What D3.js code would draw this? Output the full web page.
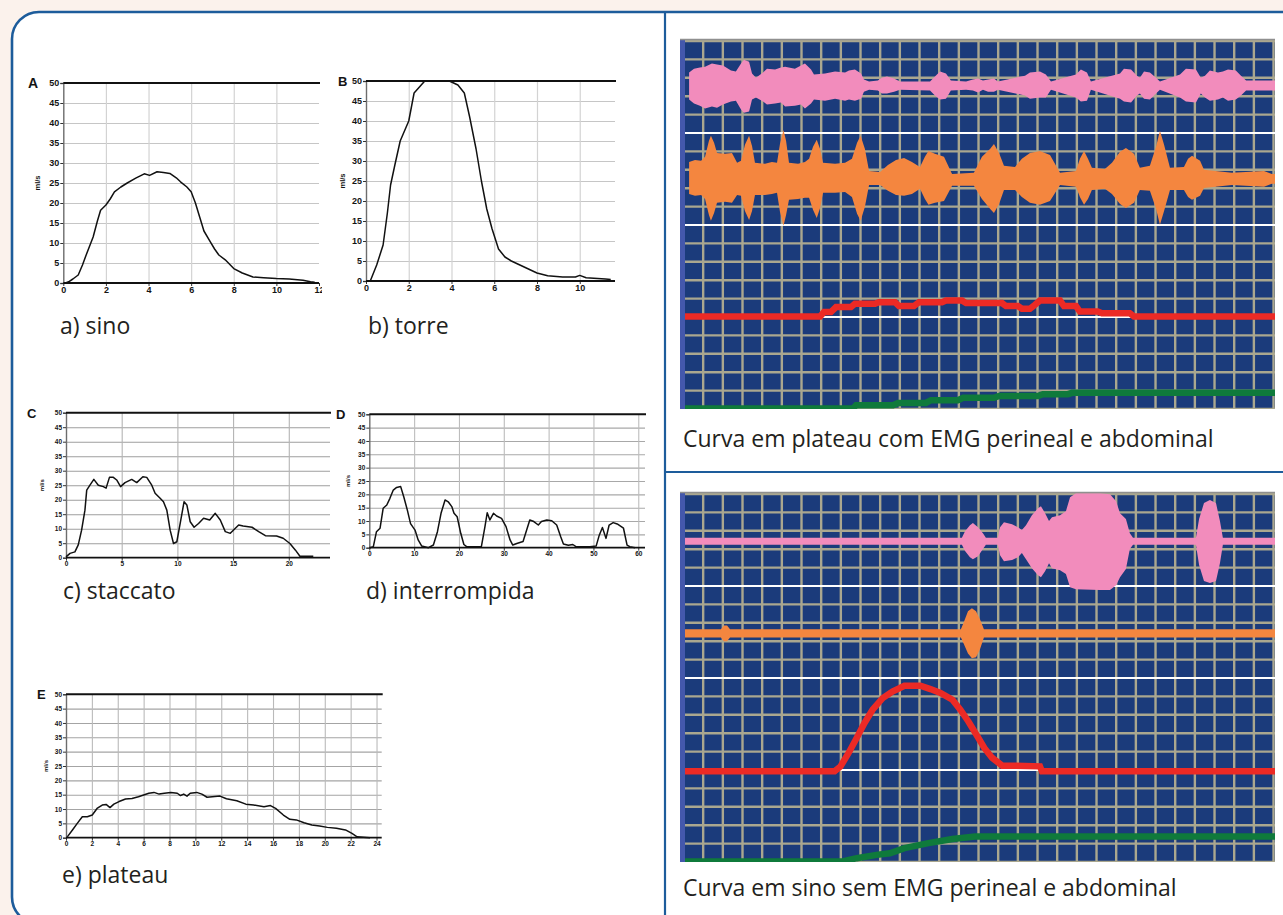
<!DOCTYPE html>
<html>
<head>
<meta charset="utf-8">
<script src="https://cdn.jsdelivr.net/npm/d3@7"></script>
<style>
html, body { margin: 0; padding: 0; background: #fbf2ec; }
svg { display: block; }
.cap { font-family: "Open Sans", "Noto Sans", sans-serif; fill: #231f20; }
.lbl { font-family: "Liberation Sans", Arial, sans-serif; font-weight: bold; fill: #141414; }
</style>
</head>
<body>
<svg id="fig" width="1283" height="915"></svg>
<script>
// ---- flow curves (x: seconds, y: ml/s) ----
const sinoData = [[0.1,0],[0.25,0.3],[0.45,1],[0.7,2],[0.9,4.5],[1.1,7.4],[1.4,11.5],[1.6,15.5],[1.75,18.2],[2.0,19.5],[2.2,21],[2.4,22.8],[2.7,24],[3.0,25],[3.4,26.2],[3.8,27.3],[4.05,26.9],[4.4,27.8],[4.7,27.6],[5.0,27.4],[5.3,26.3],[5.5,25.3],[5.8,24],[6.0,22.8],[6.2,20],[6.4,16.5],[6.6,13],[6.9,10.3],[7.1,8.5],[7.3,7],[7.6,5.8],[8.0,3.6],[8.4,2.5],[8.9,1.5],[9.4,1.3],[10.0,1.1],[10.6,1.0],[11.25,0.7],[11.6,0.3],[11.8,0.2]];
const torreData = [[0.2,0],[0.5,4],[0.8,9],[1.0,17],[1.15,24],[1.35,29],[1.6,35],[2.0,40],[2.25,47],[2.5,48.5],[2.75,50],[3.9,50],[4.3,49],[4.6,47],[4.85,41],[5.15,33],[5.4,25],[5.65,18],[5.9,13],[6.2,8],[6.5,6],[6.8,5],[7.2,4],[7.6,3],[8.0,2],[8.5,1.3],[9.2,1],[9.8,1],[10.0,1.4],[10.3,0.8],[11.2,0.5],[11.45,0.4]];
const staccatoData = [[0,0.3],[0.36,1.5],[0.8,2],[1.1,4.4],[1.4,9.5],[1.7,16.4],[1.86,23.3],[2.15,25],[2.5,27],[2.9,25],[3.35,24.5],[3.6,24],[3.9,27.7],[4.25,27.7],[4.55,26.8],[4.9,24.5],[5.3,25.9],[5.9,27],[6.35,25.9],[6.9,27.9],[7.25,27.7],[7.7,25],[8,22.2],[8.45,20.5],[8.75,19.3],[9.05,16.4],[9.35,9.5],[9.65,4.9],[9.95,5.5],[10.25,11.8],[10.6,19.3],[10.85,18.2],[11.15,12.4],[11.5,10.5],[11.9,11.8],[12.35,13.6],[12.9,13],[13.4,15.3],[13.85,13],[14.3,9],[14.75,8.4],[15.5,11.3],[15.9,10.9],[16.7,10.5],[17.3,9],[17.9,7.6],[18.9,7.5],[19.5,6.7],[20.1,4.9],[20.6,2.6],[21,0.5],[22.2,0.5]];
const interrompidaData = [[0.15,0],[0.9,0.4],[1.6,6],[2.4,7.3],[3.1,14.8],[3.9,16],[4.6,18.5],[5.35,21.6],[6.1,22.6],[7,22.9],[7.7,19],[8.5,14],[9.2,9],[10.2,6.6],[10.9,2.9],[11.7,0.6],[13.2,0],[14.3,1],[15.2,6],[16,12.9],[16.9,17.9],[17.6,17.2],[18.4,15.4],[18.9,12.9],[19.6,11.6],[20.4,5.4],[21.1,1.2],[21.7,0.4],[25,0.4],[25.8,7.9],[26.3,13.1],[26.9,10.4],[27.7,12.9],[28.4,11.9],[29.5,11],[30.5,7.9],[31.4,2.9],[32,1],[32.9,1.6],[34.3,2.3],[35.1,6.6],[35.8,10.4],[36.7,9.8],[37.7,8.5],[38.4,9.8],[39.6,10.4],[40.7,10.1],[41.8,8.5],[42.7,4.1],[43.3,1.4],[44.4,0.9],[45.4,1.2],[46.1,0.4],[49.2,0.4],[50.6,0.6],[51.3,4.7],[52,7.6],[52.8,3.5],[53.5,8.5],[54.4,9.4],[55.3,8.9],[56.7,7.3],[57.5,1],[58.1,0.4],[59.3,0]];
const plateauData = [[0.1,0.3],[0.5,2.7],[0.87,5],[1.26,7.3],[1.65,7.3],[2.03,7.9],[2.4,10.2],[2.8,11.4],[3.1,11.6],[3.4,10.5],[3.7,11.7],[4.1,12.6],[4.6,13.5],[5.1,13.7],[5.6,14.3],[6,14.9],[6.4,15.5],[6.8,15.8],[7.2,15.2],[7.6,15.5],[8.1,15.8],[8.6,15.5],[8.85,14.7],[9.1,15.2],[9.35,14.5],[9.6,15.5],[10.1,15.8],[10.5,15.2],[10.9,14.1],[11.3,14.3],[11.9,14.5],[12.4,13.6],[13.2,12.9],[13.9,11.7],[14.5,11.4],[15.3,10.8],[15.8,11.2],[16.2,10.2],[16.8,7.9],[17.3,6.4],[17.8,6.2],[18.4,5.2],[19,4.4],[19.6,4.1],[20.2,3.6],[20.9,3.3],[21.6,2.7],[22.1,1.5],[22.5,0.3],[23.5,0]];

const yTicksFlow = [0,5,10,15,20,25,30,35,40,45,50];
const xTicksA = [0,2,4,6,8,10,12];
const xTicksB = [0,2,4,6,8,10];
const xTicksC = [0,5,10,15,20];
const xTicksD = [0,10,20,30,40,50,60];
const xTicksE = [0,2,4,6,8,10,12,14,16,18,20,22,24];

// ---- EMG traces (t: seconds = grid columns, amplitude in grid divisions) ----
// [t, up, down]
const pinkTop = [[0.31,0.71,0.76],[0.56,0.92,0.98],[0.86,0.98,1.09],[1.12,1.03,1.25],[1.47,1.2,1.14],[1.73,1.14,1.2],[2.03,1.09,1.03],[2.44,0.82,0.87],[2.69,0.76,0.82],[2.95,1.2,1.3],[3.10,1.41,1.47],[3.36,1.3,1.41],[3.51,0.65,0.76],[3.71,0.43,0.65],[4.07,0.71,0.87],[4.27,0.92,1.03],[4.68,0.87,0.98],[4.98,0.98,0.92],[5.19,1.03,1.14],[5.69,0.92,1.09],[6.00,1.09,1.03],[6.20,1.2,1.25],[6.51,0.87,0.98],[6.66,0.6,0.76],[7.22,0.65,0.82],[7.73,0.76,0.71],[8.24,0.71,0.82],[8.44,0.82,0.76],[8.74,0.87,0.82],[9.05,0.65,0.71],[9.20,0.33,0.33],[9.46,0.22,0.22],[9.91,0.27,0.27],[10.12,0.43,0.43],[10.37,0.49,0.43],[10.73,0.38,0.33],[11.03,0.22,0.22],[12.56,0.22,0.27],[12.81,0.49,0.54],[13.07,0.76,0.76],[13.37,0.65,0.71],[13.62,0.27,0.27],[14.39,0.22,0.22],[14.74,0.33,0.27],[15.00,0.38,0.38],[15.25,0.27,0.22],[15.51,0.33,0.33],[15.81,0.38,0.33],[16.01,0.22,0.22],[17.39,0.54,0.54],[17.64,0.71,0.71],[18.15,0.76,0.65],[18.45,0.6,0.65],[18.71,0.22,0.22],[19.98,0.6,0.65],[20.23,0.87,0.87],[20.54,0.71,0.82],[20.74,0.22,0.22],[22.22,0.65,0.71],[22.42,0.92,0.87],[22.78,0.87,0.92],[23.08,0.54,0.54],[23.23,0.43,0.43],[23.44,0.76,0.71],[23.74,0.71,0.76],[24.05,0.43,0.43],[24.25,0.22,0.22],[25.27,0.6,0.65],[25.57,0.92,0.87],[26.08,0.87,0.92],[26.33,0.43,0.43],[26.54,0.54,0.65],[26.79,0.82,0.82],[27.20,0.71,0.76],[27.45,0.76,0.65],[27.71,0.87,0.82],[28.11,0.82,0.76],[28.37,0.54,0.54],[28.63,0.27,0.27],[30.5,0.27,0.27]];
const orangeTop = [[0.31,0.92,0.82],[0.61,1.03,0.92],[0.92,0.98,0.87],[1.12,1.2,1.09],[1.32,2.07,1.96],[1.42,2.34,2.28],[1.58,1.96,1.85],[1.73,1.41,1.3],[2.14,1.36,1.25],[2.49,1.41,1.3],[2.75,0.87,0.87],[2.95,0.98,0.92],[3.15,1.85,1.74],[3.36,2.34,2.23],[3.51,1.79,1.74],[3.66,0.87,0.87],[4.17,0.82,0.87],[4.52,0.92,0.82],[4.78,0.87,0.76],[4.93,1.9,1.79],[5.11,2.66,2.55],[5.24,2.07,1.96],[5.39,0.87,1.14],[5.85,0.82,1.09],[6.2,0.92,1.03],[6.41,1.09,1.03],[6.61,1.74,1.68],[6.8,2.12,2.12],[6.97,1.63,1.58],[7.12,0.87,0.76],[7.73,0.82,0.76],[8.24,0.87,0.71],[8.59,1.09,0.98],[8.85,1.96,1.9],[9.03,2.34,2.28],[9.25,1.63,1.52],[9.46,0.43,0.33],[10.02,0.38,0.33],[10.42,0.76,0.65],[10.83,1.03,0.87],[11.24,1.14,0.92],[11.64,0.92,0.82],[12.05,0.65,0.54],[12.3,1.2,1.09],[12.48,1.52,1.41],[12.81,1.36,1.3],[13.27,1.2,1.2],[13.68,0.27,0.38],[14.79,0.33,0.38],[15.2,1.2,1.09],[15.61,1.63,1.63],[15.81,1.9,1.85],[16.07,1.41,1.36],[16.32,0.71,0.6],[16.88,0.65,0.6],[17.23,1.09,0.98],[17.64,1.41,1.3],[18.15,1.52,1.41],[18.66,1.3,1.2],[19.17,0.33,0.33],[19.98,0.43,0.43],[20.18,1.09,0.98],[20.39,1.52,1.41],[20.59,1.09,1.09],[20.79,0.6,0.6],[21.45,0.54,0.54],[21.81,0.87,0.82],[22.22,1.47,1.36],[22.52,1.68,1.58],[22.93,1.36,1.3],[23.23,0.6,0.6],[23.74,0.71,0.65],[24.05,1.74,1.63],[24.25,2.61,2.5],[24.46,1.85,1.74],[24.76,0.6,0.6],[25.47,0.65,0.6],[25.68,1.09,0.98],[25.88,1.25,1.14],[26.29,0.98,0.92],[26.49,0.49,0.49],[27.91,0.33,0.33],[29.54,0.43,0.43],[29.94,0.27,0.27],[30.5,0.27,0.27]];
const redTop = [[0,0],[6.97,0],[7.17,0.24],[7.52,0.24],[7.78,0.51],[8.54,0.51],[8.74,0.69],[9.76,0.69],[9.96,0.78],[10.78,0.78],[10.98,0.57],[11.74,0.57],[12.0,0.78],[13.17,0.78],[13.37,0.87],[14.18,0.87],[14.39,0.73],[16.22,0.73],[16.42,0.57],[17.03,0.57],[17.23,0.42],[17.64,0.42],[17.9,0.64],[18.15,0.87],[19.17,0.87],[19.37,0.57],[19.98,0.57],[20.18,0.27],[21.09,0.27],[21.3,0.18],[22.72,0.18],[22.93,0],[30.5,0]];
const greenTop = [[0,0],[8.65,0],[8.8,0.18],[10.68,0.18],[10.93,0.3],[12.35,0.3],[12.61,0.45],[13.98,0.45],[14.24,0.58],[15.81,0.58],[16.07,0.68],[18.05,0.68],[18.3,0.78],[19.57,0.78],[19.78,0.85],[30.5,0.85]];

const pinkBot = [[0,0.19,0.19],[14.18,0.19,0.19],[14.34,0.54,0.54],[14.59,0.87,0.87],[14.74,0.99,0.99],[15.0,0.76,0.82],[15.25,0.43,0.43],[15.4,0.19,0.19],[16.01,0.19,0.19],[16.12,0.76,0.76],[16.32,1.03,1.09],[16.73,0.92,1.03],[17.03,0.76,0.87],[17.23,0.6,0.65],[17.44,0.87,0.98],[17.74,1.41,1.47],[18.05,1.79,1.85],[18.2,1.9,1.96],[18.41,1.52,1.63],[18.61,1.09,1.2],[18.76,1.3,1.47],[19.17,1.41,1.58],[19.47,1.63,1.79],[19.68,2.39,2.5],[19.98,2.61,2.61],[21.2,2.61,2.66],[21.71,2.55,2.66],[22.02,2.17,2.39],[22.22,1.52,1.96],[22.52,1.2,1.52],[22.72,0.43,0.43],[22.88,0.19,0.19],[26.08,0.19,0.19],[26.24,1.2,1.3],[26.49,2.07,2.17],[26.79,2.23,2.28],[27.1,2.07,2.17],[27.3,1.09,1.2],[27.45,0.19,0.19],[30.5,0.19,0.19]];
const orangeBot = [[0,0.22,0.22],[1.93,0.22,0.22],[2.08,0.43,0.43],[2.24,0.43,0.43],[2.39,0.22,0.22],[14.13,0.22,0.22],[14.29,0.65,0.6],[14.49,1.2,1.09],[14.69,1.36,1.36],[14.9,1.2,1.3],[15.1,0.76,0.87],[15.3,0.22,0.22],[30.5,0.22,0.22]];
const redBot = [[0,0],[7.71,0],[8.01,0.27],[8.42,1.0],[8.83,1.81],[9.23,2.63],[9.64,3.35],[10.15,3.98],[10.65,4.34],[11.26,4.65],[12.07,4.65],[12.58,4.47],[13.09,4.26],[13.7,3.89],[14.1,3.35],[14.51,2.71],[14.92,1.99],[15.32,1.27],[15.72,0.73],[16.23,0.31],[16.94,0.31],[18.15,0.27],[18.25,0],[30.5,0]];
const greenBot = [[0,0],[8.11,0],[8.83,0.18],[9.84,0.36],[10.52,0.45],[11.26,0.73],[12.48,1.0],[13.7,1.22],[14.85,1.36],[30.5,1.36]];

const captions = ["a) sino", "b) torre", "c) staccato", "d) interrompida", "e) plateau"];
const emgCaptions = ["Curva em plateau com EMG perineal e abdominal", "Curva em sino sem EMG perineal e abdominal"];

const svg = d3.select("#fig");
const blue = "#1d5c9b";

svg.append("rect").attr("x", 12).attr("y", 12).attr("width", 1300).attr("height", 912)
  .attr("rx", 27).attr("fill", "#fff").attr("stroke", blue).attr("stroke-width", 2.6);
svg.append("line").attr("x1", 665).attr("x2", 665).attr("y1", 13).attr("y2", 915)
  .attr("stroke", blue).attr("stroke-width", 2.2);
svg.append("line").attr("x1", 665).attr("x2", 1283).attr("y1", 472).attr("y2", 472)
  .attr("stroke", blue).attr("stroke-width", 2.2);

let clipN = 0;

function flowChart(o) {
  const g = svg.append("g");
  const x = d3.scaleLinear().domain(o.xDomain).range([o.left, o.right]);
  const y = d3.scaleLinear().domain([0, 50]).range([o.bottom, o.top]);
  const w = o.right - o.left, h = o.bottom - o.top;

  // horizontal grid
  g.append("g").attr("transform", `translate(${o.left},0)`)
    .call(d3.axisLeft(y).tickValues(yTicksFlow.slice(1, -1)).tickSize(-w).tickFormat(""))
    .call(s => s.select(".domain").remove())
    .selectAll("line").attr("stroke", o.hGrid).attr("stroke-width", o.gw);
  // vertical grid
  g.append("g").attr("transform", `translate(0,${o.bottom})`)
    .call(d3.axisBottom(x).tickValues(o.xTicks.slice(1).filter(v => x(v) < o.right - 2)).tickSize(-h).tickFormat(""))
    .call(s => s.select(".domain").remove())
    .selectAll("line").attr("stroke", o.vGrid).attr("stroke-width", o.gw);

  // y axis
  const ya = g.append("g").attr("transform", `translate(${o.left},0)`)
    .call(d3.axisLeft(y).tickValues(yTicksFlow).tickSize(3).tickPadding(1));
  ya.select(".domain").attr("stroke", "#6d6d6d").attr("stroke-width", 1.4);
  ya.selectAll(".tick line").attr("stroke", "#333");
  ya.selectAll("text").attr("class", "lbl").style("font-size", o.fs + "px");

  // x axis
  const xa = g.append("g").attr("transform", `translate(0,${o.bottom})`)
    .call(d3.axisBottom(x).tickValues(o.xTicks).tickSize(3).tickPadding(1));
  xa.select(".domain").remove();
  xa.selectAll(".tick line").attr("stroke", "#333");
  xa.selectAll("text").attr("class", "lbl").style("font-size", o.fs + "px");
  if (o.clip) {
    // the source image is cut just after the last tick label
    const id = "clipflow" + (clipN++);
    svg.append("clipPath").attr("id", id).append("rect")
      .attr("x", o.left - 20).attr("y", -2).attr("width", o.clip - o.left + 20).attr("height", 30);
    xa.attr("clip-path", `url(#${id})`);
  }

  // top (50) and bottom (0) lines
  g.append("line").attr("x1", o.left).attr("x2", o.right + 1).attr("y1", y(50)).attr("y2", y(50))
    .attr("stroke", "#111").attr("stroke-width", 2);
  g.append("line").attr("x1", o.left).attr("x2", o.right).attr("y1", y(0)).attr("y2", y(0))
    .attr("stroke", "#111").attr("stroke-width", 1.8);

  // flow curve
  g.append("path").datum(o.data)
    .attr("d", d3.line().x(d => x(d[0])).y(d => y(d[1])))
    .attr("fill", "none").attr("stroke", "#111").attr("stroke-width", 1.5)
    .attr("stroke-linejoin", "round");

  g.append("text").attr("class", "lbl").attr("x", o.letterX).attr("y", o.letterY)
    .style("font-size", o.lfs + "px").text(o.letter);
  g.append("text").attr("class", "lbl")
    .attr("transform", `translate(${o.mlX},${(o.top + o.bottom) / 2}) rotate(-90)`)
    .attr("text-anchor", "middle").style("font-size", o.mfs + "px").text("ml/s");
}

flowChart({ letter: "A", data: sinoData, xDomain: [0, 12], xTicks: xTicksA, left: 63.3, right: 319, top: 83, bottom: 283,
  fs: 9, lfs: 14, mfs: 7.5, letterX: 28, letterY: 88, mlX: 40, clip: 322, hGrid: "#c6c6c6", vGrid: "#d3d3d3", gw: 1.2 });
flowChart({ letter: "B", data: torreData, xDomain: [0, 11.65], xTicks: xTicksB, left: 366, right: 615, top: 81, bottom: 281,
  fs: 9, lfs: 13, mfs: 7.5, letterX: 338, letterY: 86, mlX: 345, hGrid: "#c6c6c6", vGrid: "#d3d3d3", gw: 1.2 });
flowChart({ letter: "C", data: staccatoData, xDomain: [0, 23.7], xTicks: xTicksC, left: 66, right: 330, top: 412.7, bottom: 557.7,
  fs: 6.5, lfs: 13, mfs: 6, letterX: 27, letterY: 418, mlX: 44, hGrid: "#9e9e9e", vGrid: "#b4b4b4", gw: 1.1 });
flowChart({ letter: "D", data: interrompidaData, xDomain: [0, 61.5], xTicks: xTicksD, left: 369.3, right: 645, top: 414.3, bottom: 547.7,
  fs: 6.5, lfs: 13, mfs: 6, letterX: 336, letterY: 419, mlX: 350, hGrid: "#a8a8a8", vGrid: "#bdbdbd", gw: 1.1 });
flowChart({ letter: "E", data: plateauData, xDomain: [0, 24.4], xTicks: xTicksE, left: 66, right: 381.7, top: 694.3, bottom: 837.7,
  fs: 6.5, lfs: 13, mfs: 6, letterX: 37, letterY: 699, mlX: 48, hGrid: "#a4a4a4", vGrid: "#bababa", gw: 1.1 });

// captions of the flow charts
const capPos = [[60, 334], [368, 334], [63, 599], [366, 599], [62, 883]];
svg.selectAll("text.capL").data(captions).join("text")
  .attr("class", "cap capL").attr("x", (d, i) => capPos[i][0]).attr("y", (d, i) => capPos[i][1])
  .style("font-size", "23px").text(d => d);

// ---- EMG panels ----
function emgPanel(o) {
  const g = svg.append("g");
  const x = d3.scaleLinear().domain([0, 30.1]).range([683, 1275]);
  const y = d3.scaleLinear().domain([0, 20]).range([o.top, o.bottom]);
  const id = "clipemg" + (clipN++);
  svg.append("clipPath").attr("id", id).append("rect")
    .attr("x", 680).attr("y", o.top - 1.5).attr("width", 1275 - 680).attr("height", o.bottom - o.top + 2);

  g.append("rect").attr("x", 680).attr("y", o.top - 1.5).attr("width", 1275 - 680).attr("height", o.bottom - o.top + 2)
    .attr("fill", "#1b3b7b");
  const inner = g.append("g").attr("clip-path", `url(#${id})`);

  const vg = inner.append("g").attr("transform", `translate(0,${o.bottom})`)
    .call(d3.axisBottom(x).tickValues(d3.range(1, 31)).tickSize(-(o.bottom - o.top)).tickFormat(""));
  vg.select(".domain").remove();
  vg.selectAll("line").attr("stroke", "#aaa78f").attr("stroke-width", 2.4);

  const hg = inner.append("g").attr("transform", "translate(680,0)")
    .call(d3.axisLeft(y).tickValues(d3.range(0, 21)).tickSize(-(1275 - 680)).tickFormat(""));
  hg.select(".domain").remove();
  hg.selectAll(".tick line")
    .attr("stroke", d => (d % 5 === 0 && d > 0 && d < 20) ? "#ffffff" : "#aaa78f")
    .attr("stroke-width", d => (d % 5 === 0 && d > 0 && d < 20) ? 2 : 2.4);

  const env = c => d3.area().x(d => x(d[0])).y0(d => y(c + d[2])).y1(d => y(c - d[1]));
  inner.append("path").datum(o.pink).attr("d", env(o.pinkC)).attr("fill", "#f28cbc");
  inner.append("path").datum(o.orange).attr("d", env(o.orangeC)).attr("fill", "#f4863f");

  inner.append("path").datum(o.green)
    .attr("d", d3.line().x(d => x(d[0])).y(d => y(20 - d[1])))
    .attr("fill", "none").attr("stroke", "#0f7a3b").attr("stroke-width", 6.5);
  inner.append("path").datum(o.red)
    .attr("d", d3.line().x(d => x(d[0])).y(d => y(o.redBase - d[1])))
    .attr("fill", "none").attr("stroke", "#ec2a25").attr("stroke-width", 6.5);

  // frame
  g.append("rect").attr("x", 680).attr("y", o.top - 1.5).attr("width", 5).attr("height", o.bottom - o.top + 2)
    .attr("fill", "#4458ac");
  g.append("line").attr("x1", 680).attr("x2", 1275).attr("y1", o.top - 1).attr("y2", o.top - 1)
    .attr("stroke", "#8f8f8f").attr("stroke-width", 1.5);
}

emgPanel({ top: 40.5, bottom: 408.5, pink: pinkTop, pinkC: 2.45, orange: orangeTop, orangeC: 7.52,
  red: redTop, redBase: 15, green: greenTop });
emgPanel({ top: 493.5, bottom: 861.5, pink: pinkBot, pinkC: 2.59, orange: orangeBot, orangeC: 7.6,
  red: redBot, redBase: 15.1, green: greenBot });

svg.selectAll("text.capR").data(emgCaptions).join("text")
  .attr("class", "cap capR").attr("x", 683).attr("y", (d, i) => [447, 896][i])
  .style("font-size", "23px").text(d => d);
</script>
</body>
</html>
